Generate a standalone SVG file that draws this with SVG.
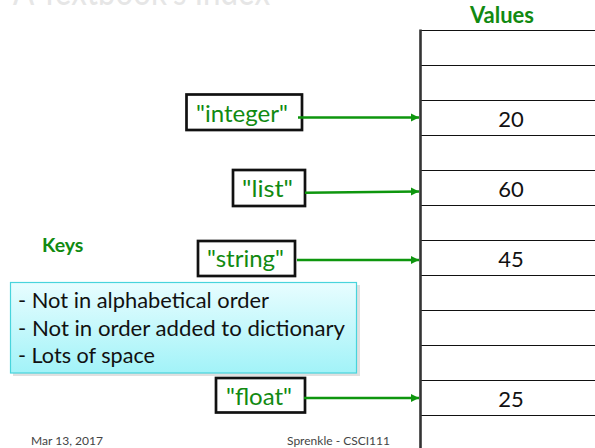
<svg xmlns="http://www.w3.org/2000/svg" width="595" height="448" viewBox="0 0 595 448">
  <style>
    .key { fill: #ffffff; stroke: #111111; stroke-width: 2.7; }
    .keytxt { font-family: Lato, "Liberation Sans", sans-serif; font-size: 23px; fill: #118a11; text-anchor: middle; }
    .val { font-family: Lato, "Liberation Sans", sans-serif; font-size: 22px; fill: #111111; text-anchor: middle; }
    .row { stroke: #111111; stroke-width: 1.2; }
    .hdr { font-family: Lato, "Liberation Sans", sans-serif; font-weight: bold; fill: #118a11; }
    .note { font-family: Lato, "Liberation Sans", sans-serif; font-size: 21px; fill: #111111; }
    .foot { font-family: Lato, "Liberation Sans", sans-serif; font-size: 11.5px; fill: #444444; }
    .conn { stroke: #0e960e; stroke-width: 2.6; fill: none; marker-end: url(#arr); }
  </style>
  <defs>
    <marker id="arr" markerUnits="userSpaceOnUse" markerWidth="9" markerHeight="9" refX="8" refY="4.5" orient="auto">
      <path d="M0,0.5 L8,4.5 L0,8.5 Z" fill="#0e960e"/>
    </marker>
    <linearGradient id="cg" x1="0" y1="0" x2="0" y2="1">
      <stop offset="0" stop-color="#e8fdff"/>
      <stop offset="1" stop-color="#a2f3f8"/>
    </linearGradient>
  </defs>

  <rect width="595" height="448" fill="#ffffff"/>

  <g id="title">
    <text x="13" y="5" font-family="Lato, 'Liberation Sans', sans-serif" font-size="38" fill="#e6e6e6" textLength="257" lengthAdjust="spacingAndGlyphs">A Textbook's Index</text>
  </g>

  <g id="values-label">
    <text class="hdr" x="502" y="22.5" font-size="22" text-anchor="middle">Values</text>
  </g>

  <g id="values-table">
    <line class="row" x1="420" y1="30.5" x2="595" y2="30.5" stroke-width="2"/>
    <line class="row" x1="420" y1="65.5" x2="595" y2="65.5"/>
    <line class="row" x1="420" y1="100.5" x2="595" y2="100.5"/>
    <line class="row" x1="420" y1="135.5" x2="595" y2="135.5"/>
    <line class="row" x1="420" y1="170.5" x2="595" y2="170.5"/>
    <line class="row" x1="420" y1="205.5" x2="595" y2="205.5"/>
    <line class="row" x1="420" y1="240.5" x2="595" y2="240.5"/>
    <line class="row" x1="420" y1="275.5" x2="595" y2="275.5"/>
    <line class="row" x1="420" y1="310.5" x2="595" y2="310.5"/>
    <line class="row" x1="420" y1="345.5" x2="595" y2="345.5"/>
    <line class="row" x1="420" y1="380.5" x2="595" y2="380.5"/>
    <line class="row" x1="420" y1="415.5" x2="595" y2="415.5"/>
    <line x1="420.5" y1="29.5" x2="420.5" y2="448" stroke="#333333" stroke-width="2.6"/>
    <text class="val" x="511" y="127">20</text>
    <text class="val" x="511" y="197">60</text>
    <text class="val" x="511" y="267">45</text>
    <text class="val" x="511" y="407">25</text>
  </g>

  <g id="keys-label">
    <text class="hdr" x="42" y="252" font-size="19.5">Keys</text>
  </g>

  <g id="callout">
    <rect x="13" y="285" width="347" height="91" fill="#000000" opacity="0.12"/>
    <rect x="10.5" y="282.5" width="346" height="90.5" fill="url(#cg)" stroke="#48d4dc" stroke-width="1.2"/>
    <text class="note" x="18" y="308" textLength="251" lengthAdjust="spacingAndGlyphs">- Not in alphabetical order</text>
    <text class="note" x="18" y="335.5" textLength="327" lengthAdjust="spacingAndGlyphs">- Not in order added to dictionary</text>
    <text class="note" x="18" y="363" textLength="137" lengthAdjust="spacingAndGlyphs">- Lots of space</text>
  </g>

  <g id="key-integer">
    <rect class="key" x="186.5" y="94.5" width="115.5" height="35.5"/>
    <text class="keytxt" x="242" y="121.5" textLength="92" lengthAdjust="spacingAndGlyphs">"integer"</text>
  </g>
  <g id="key-list">
    <rect class="key" x="233" y="170" width="72" height="36"/>
    <text class="keytxt" x="267.5" y="196.5" textLength="51" lengthAdjust="spacingAndGlyphs">"list"</text>
  </g>
  <g id="key-string">
    <rect class="key" x="198" y="241" width="97" height="35"/>
    <text class="keytxt" x="245.5" y="266.5" textLength="77" lengthAdjust="spacingAndGlyphs">"string"</text>
  </g>
  <g id="key-float">
    <rect class="key" x="216" y="378" width="89" height="34.5"/>
    <text class="keytxt" x="259" y="405" textLength="66" lengthAdjust="spacingAndGlyphs">"float"</text>
  </g>

  <g id="connectors">
    <line class="conn" x1="298" y1="117.5" x2="419" y2="117.5"/>
    <line class="conn" x1="305" y1="192.8" x2="419" y2="191.5"/>
    <line class="conn" x1="297" y1="260" x2="419" y2="260"/>
    <line class="conn" x1="304" y1="398" x2="419" y2="398"/>
  </g>

  <g id="footer">
    <text class="foot" x="31" y="445" textLength="72" lengthAdjust="spacingAndGlyphs">Mar 13, 2017</text>
    <text class="foot" x="287" y="445" textLength="103" lengthAdjust="spacingAndGlyphs">Sprenkle - CSCI111</text>
  </g>
</svg>
